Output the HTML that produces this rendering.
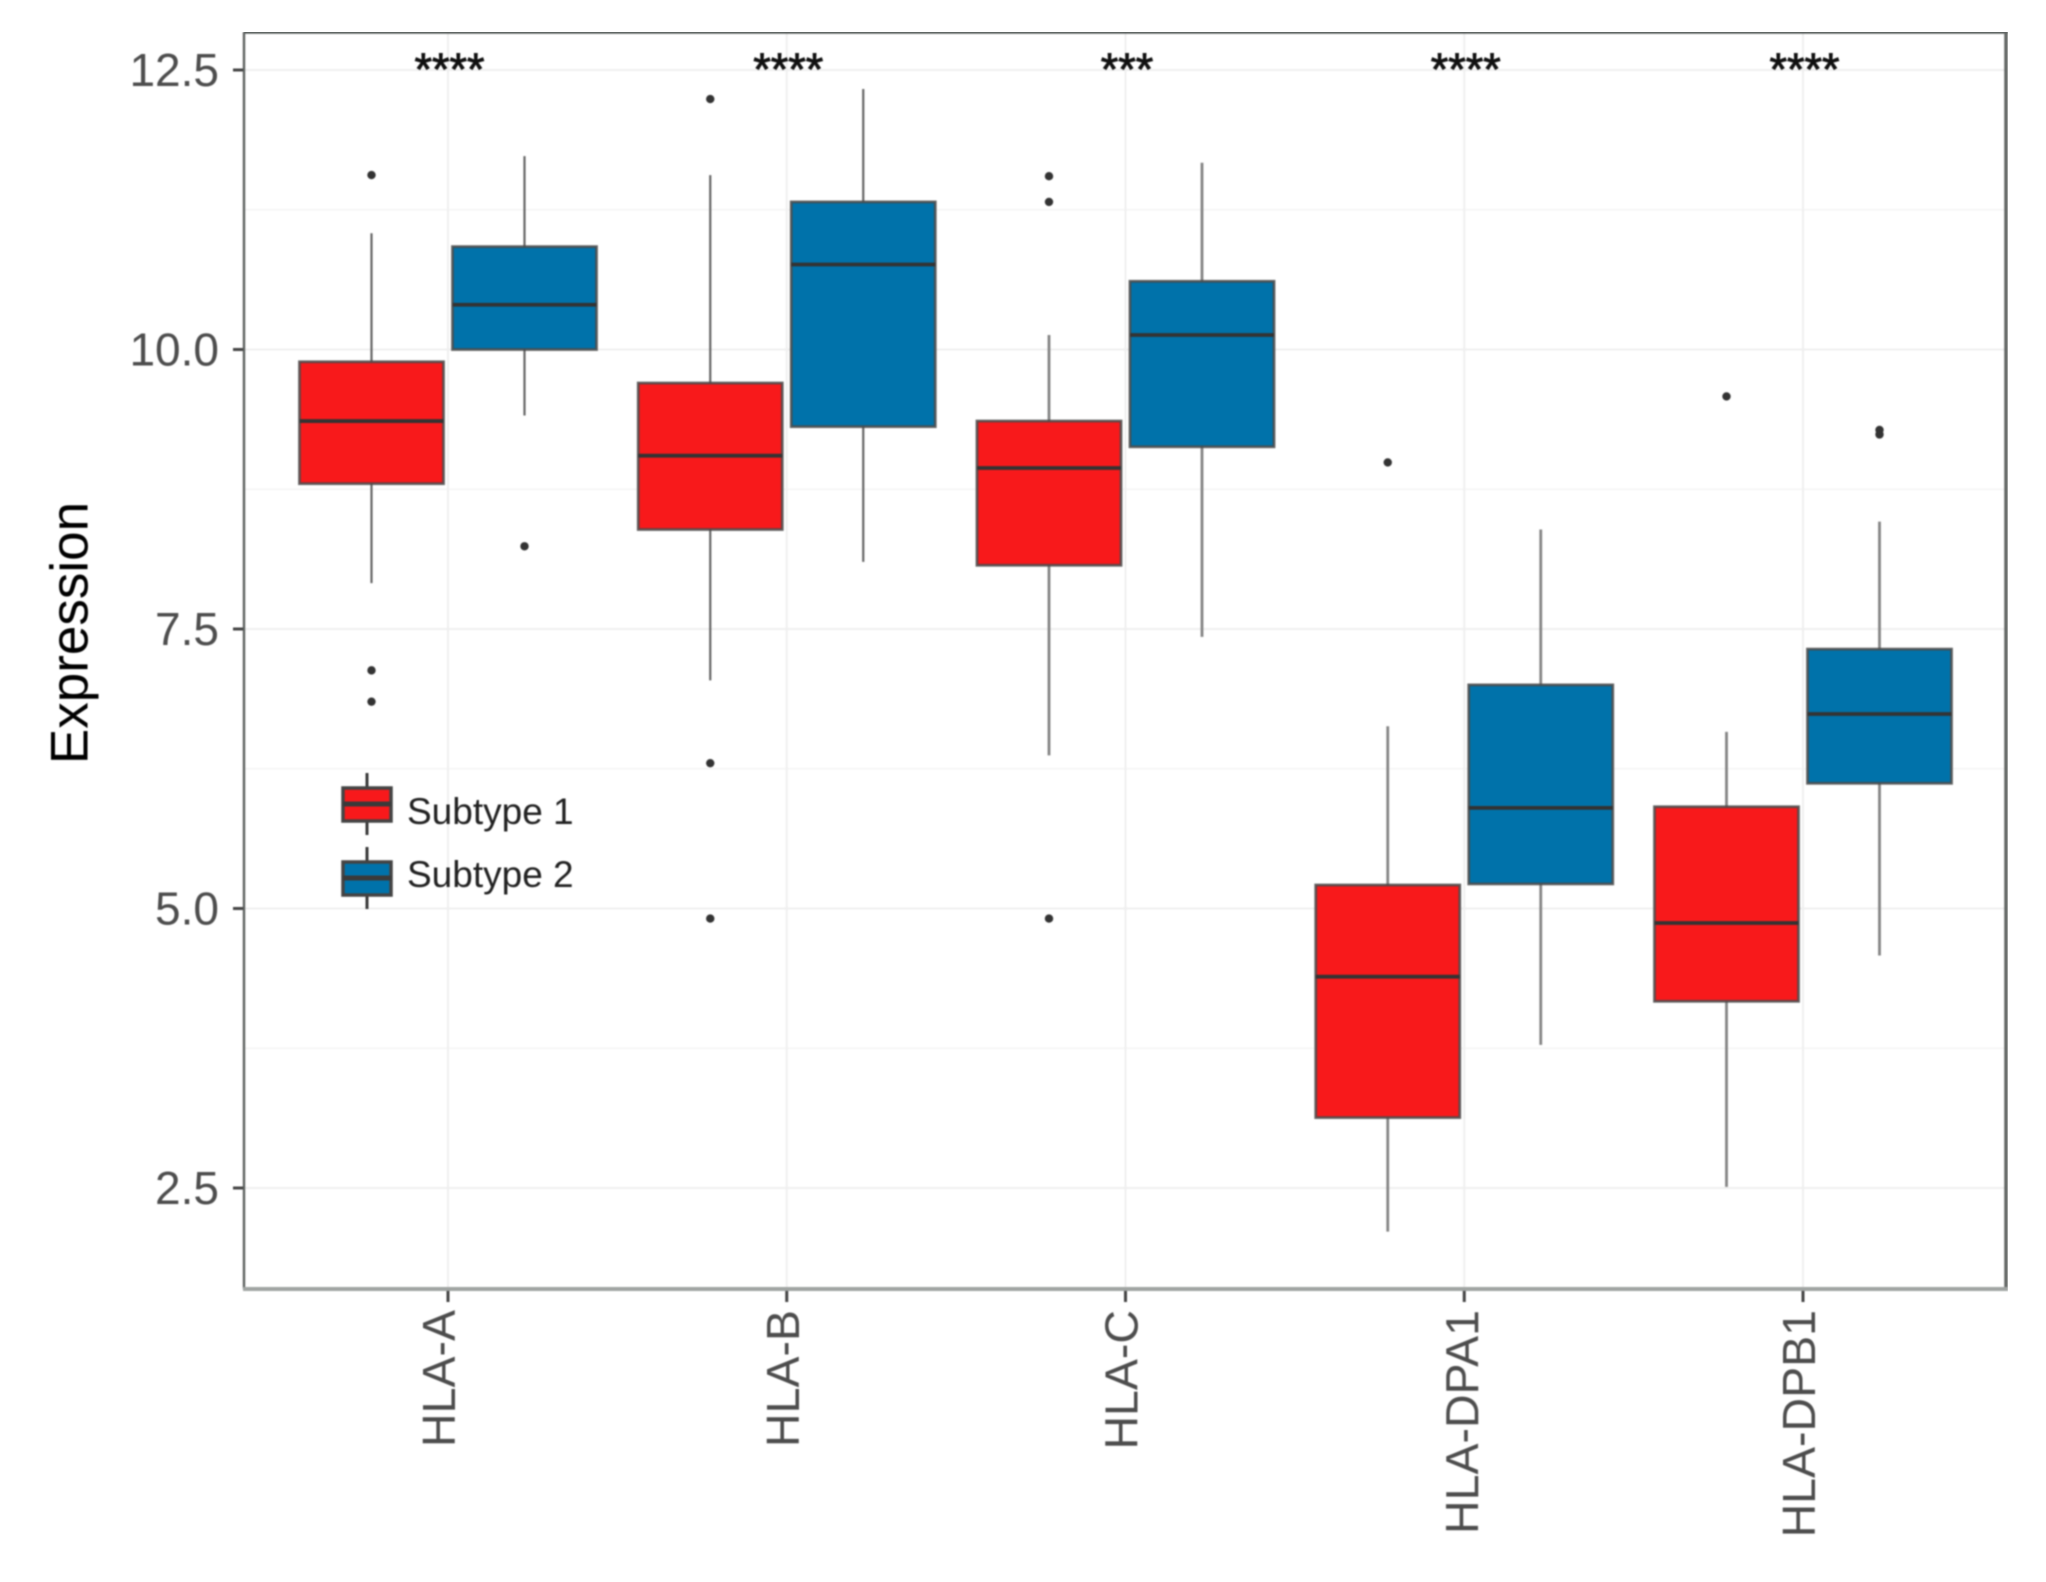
<!DOCTYPE html>
<html lang="en">
<head>
<meta charset="utf-8">
<title>HLA expression by subtype</title>
<style>
html,body{margin:0;padding:0;background:#fff;width:2046px;height:1582px;overflow:hidden}
svg{display:block;font-family:"Liberation Sans",Arial,sans-serif}
</style>
</head>
<body>
<svg id="chart" xmlns="http://www.w3.org/2000/svg" width="2046" height="1582" viewBox="0 0 2046 1582">
  <defs>
    <filter id="soft" x="0" y="0" width="100%" height="100%" color-interpolation-filters="sRGB"><feGaussianBlur stdDeviation="0.8"/></filter>
  </defs>
  <rect x="0" y="0" width="2046" height="1582" fill="#ffffff"/>
  <g id="root" filter="url(#soft)">
    <g id="grid"></g>
    <g id="boxes"></g>
    <g id="sig"></g>
    <g id="axes"></g>
    <g id="legend">
      <g>
        <line x1="367" x2="367" y1="773" y2="835" stroke="#3a3a3a" stroke-width="3"/>
        <rect x="343" y="788" width="48" height="33" fill="#f8191b" stroke="#444" stroke-width="3.5"/>
        <line x1="343" x2="391" y1="804" y2="804" stroke="#3a3a3a" stroke-width="5"/>
        <text x="407" y="824" font-size="37" fill="#222">Subtype 1</text>
      </g>
      <g>
        <line x1="367" x2="367" y1="847" y2="909" stroke="#3a3a3a" stroke-width="3"/>
        <rect x="343" y="862" width="48" height="33" fill="#0072aa" stroke="#444" stroke-width="3.5"/>
        <line x1="343" x2="391" y1="878" y2="878" stroke="#3a3a3a" stroke-width="5"/>
        <text x="407" y="887" font-size="37" fill="#222">Subtype 2</text>
      </g>
    </g>
    <text transform="translate(87.5 633) rotate(-90)" text-anchor="middle" font-size="53" fill="#000">Expression</text>
  </g>
</svg>
<script>
const categories = ["HLA-A", "HLA-B", "HLA-C", "HLA-DPA1", "HLA-DPB1"];
const significance = ["****", "****", "***", "****", "****"];
const yTicks = [2.5, 5, 7.5, 10, 12.5];
const yTickLabels = ["2.5", "5.0", "7.5", "10.0", "12.5"];
const yMinorTicks = [3.75, 6.25, 8.75, 11.25];

const s1WhiskerLow = [7.91, 7.04, 6.37, 2.11, 2.51];
const s1Q1 = [8.80, 8.39, 8.07, 3.13, 4.17];
const s1Median = [9.36, 9.05, 8.94, 4.39, 4.87];
const s1Q3 = [9.89, 9.70, 9.36, 5.21, 5.91];
const s1WhiskerHigh = [11.04, 11.56, 10.13, 6.63, 6.58];
const s1Outliers = [[11.56, 7.13, 6.85], [12.24, 6.30, 4.91], [11.55, 11.32, 4.91], [8.99], [9.58]];

const s2WhiskerLow = [9.41, 8.10, 7.43, 3.78, 4.58];
const s2Q1 = [10.00, 9.31, 9.13, 5.22, 6.12];
const s2Median = [10.40, 10.76, 10.13, 5.90, 6.74];
const s2Q3 = [10.92, 11.32, 10.61, 7.00, 7.32];
const s2WhiskerHigh = [11.73, 12.33, 11.67, 8.39, 8.46];
const s2Outliers = [[8.24], [], [], [], [9.28, 9.24]];

const PANEL = {left: 244, right: 2006, top: 32, bottom: 1289};
function y(v) { return 70 + (12.5 - v) * 111.8; }
function x(i) { return 448 + 338.75 * i; }
const DODGE = 76.5, BOX_W = 144;
const NS = "http://www.w3.org/2000/svg";
function make(tag, parent, attrs) {
  const el = document.createElementNS(NS, tag);
  for (const k in attrs) el.setAttribute(k, attrs[k]);
  parent.appendChild(el);
  return el;
}
const grid = document.getElementById("grid");
const boxes = document.getElementById("boxes");
const sig = document.getElementById("sig");
const axes = document.getElementById("axes");

yMinorTicks.forEach(function (v) {
  const l = make("line", grid, {x1: PANEL.left, x2: PANEL.right, y1: y(v), y2: y(v), stroke: "#f5f5f5", "stroke-width": 1.5});
  
  
});
yTicks.forEach(function (v) {
  const l = make("line", grid, {x1: PANEL.left, x2: PANEL.right, y1: y(v), y2: y(v), stroke: "#efefef", "stroke-width": 2});
  
  
});
categories.forEach(function (c, i) {
  const l = make("line", grid, {x1: x(i), x2: x(i), y1: PANEL.top, y2: PANEL.bottom, stroke: "#efefef", "stroke-width": 2});
  
  
});

function drawBox(i, cx, fill, wLow, q1, med, q3, wHigh, outs, series) {
  const g = make("g", boxes, {});
  
  
  const wTone = i < 2 ? "#666666" : "#858585";
  const wWidth = i < 2 ? 2.2 : 2.8;
  const up = make("line", g, {x1: cx, x2: cx, y1: y(wHigh), y2: y(q3), stroke: wTone, "stroke-width": wWidth});
  
  
  const dn = make("line", g, {x1: cx, x2: cx, y1: y(q1), y2: y(wLow), stroke: wTone, "stroke-width": wWidth});
  
  
  const r = make("rect", g, {x: cx - BOX_W / 2, y: y(q3), width: BOX_W, height: y(q1) - y(q3), fill: fill, stroke: "#4a4a4a", "stroke-opacity": 0.85, "stroke-width": 2.8});
  
  
  const m = make("line", g, {x1: cx - BOX_W / 2, x2: cx + BOX_W / 2, y1: y(med), y2: y(med), stroke: "#333333", "stroke-width": 3.8});
  
  
  outs.forEach(function (v) {
    const o = make("circle", g, {cx: cx, cy: y(v), r: 4.2, fill: "#333333"});
    
    
  });
}
categories.forEach(function (c, i) {
  drawBox(i, x(i) - DODGE, "#f8191b", s1WhiskerLow[i], s1Q1[i], s1Median[i], s1Q3[i], s1WhiskerHigh[i], s1Outliers[i], "subtype-1");
  drawBox(i, x(i) + DODGE, "#0072aa", s2WhiskerLow[i], s2Q1[i], s2Median[i], s2Q3[i], s2WhiskerHigh[i], s2Outliers[i], "subtype-2");
  const s = make("text", sig, {x: x(i) + 1.5, y: 85, "text-anchor": "middle", "font-size": 45, fill: "#111", stroke: "#111", "stroke-width": 0.9});
  s.textContent = significance[i];
  
  
});

const borderTop = make("line", axes, {x1: PANEL.left, x2: PANEL.right + 2, y1: PANEL.top, y2: PANEL.top, stroke: "#565c5a", "stroke-width": 3.5});


const borderLeft = make("line", axes, {x1: PANEL.left, x2: PANEL.left, y1: PANEL.top, y2: PANEL.bottom, stroke: "#5e6260", "stroke-width": 2.4});


const borderRight = make("line", axes, {x1: PANEL.right, x2: PANEL.right, y1: PANEL.top, y2: PANEL.bottom, stroke: "#626664", "stroke-width": 3.5});


const borderBottom = make("line", axes, {x1: PANEL.left - 1, x2: PANEL.right + 2, y1: PANEL.bottom, y2: PANEL.bottom, stroke: "#a0a4a2", "stroke-width": 4});



yTicks.forEach(function (v, i) {
  const t = make("line", axes, {x1: 233, x2: 243, y1: y(v), y2: y(v), stroke: "#444", "stroke-width": 3});
  
  
  const l = make("text", axes, {x: 219, y: y(v) + 16, "text-anchor": "end", "font-size": 46, fill: "#4d4d4d"});
  l.textContent = yTickLabels[i];
  
  
});
categories.forEach(function (c, i) {
  const t = make("line", axes, {x1: x(i), x2: x(i), y1: 1291, y2: 1302, stroke: "#444", "stroke-width": 3});
  
  
  const nudge = c === "HLA-A" ? -5 : (c === "HLA-DPA1" ? 2 : 0);
  const l = make("text", axes, {transform: "translate(" + (x(i) + 12 + nudge) + " 1310) rotate(-90)", "text-anchor": "end", "font-size": 46.5, fill: "#4d4d4d"});
  l.textContent = c;
  
  
});
</script>
</body>
</html>
